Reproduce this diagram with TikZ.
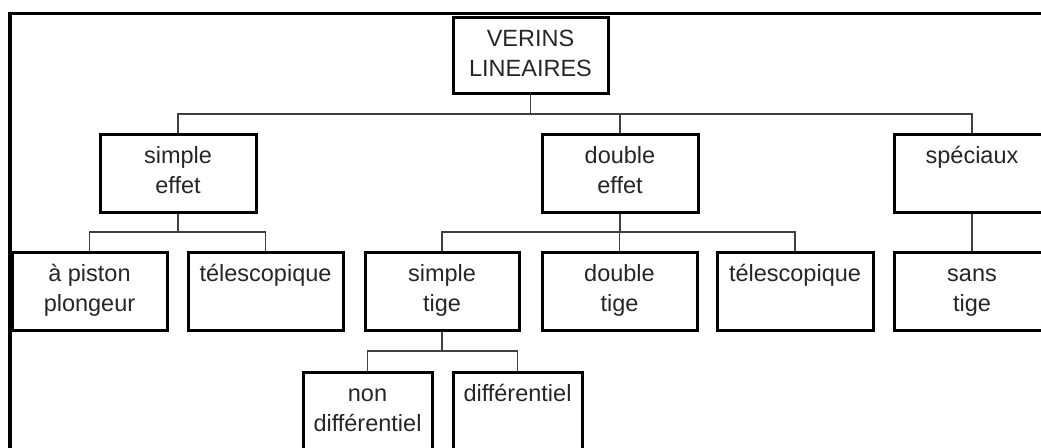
\documentclass[tikz,border=0pt]{standalone}
\usepackage{fontspec}
\setmainfont{Liberation Sans}
\begin{document}
\begin{tikzpicture}[x=1pt,y=1pt,
  box/.style={draw=black, line width=3pt, rectangle, inner sep=0pt,
    minimum width=155pt, minimum height=78pt},
  txt/.style={anchor=base, align=center, inner sep=0pt, text=black!85,
    font=\fontsize{23.5}{30}\selectfont},
  one/.style={txt, yshift=-31pt},
  two/.style={txt, yshift=-61pt},
  conn/.style={draw=black!75, line width=1.4pt},
  frame/.style={draw=black, line width=3.8pt}]
\useasboundingbox (0,0) rectangle (1041,-447);
% outer frame (left and top edges)
\coordinate (fl) at (10,-460);
\coordinate (fc) at (10,-13.5);
\coordinate (fr) at (1060,-13.5);
\draw[frame] (fl) -- (fc) -- (fr);

% boxes
\node[box, minimum height=76pt] (root) at (530.5,-55) {};
\node[box, minimum width=156pt] (sfx) at (178,-173) {};
\node[box, minimum width=156pt] (dfx) at (620,-173) {};
\node[box, minimum width=156pt] (spc) at (972,-173) {};
\node[box] (apl)  at (89.5,-291) {};
\node[box] (tel1) at (265.5,-291) {};
\node[box, minimum width=154pt] (stg) at (442,-291) {};
\node[box] (dtg)  at (619.5,-291) {};
\node[box, minimum width=156pt] (tel2) at (795,-291) {};
\node[box, minimum width=156pt] (sst)  at (972,-291) {};
\node[box, minimum width=129pt] (ndf) at (367.5,-411) {};
\node[box, minimum width=129pt] (dif) at (517.5,-411) {};

% labels, hung from the top edge of each box
\node[two] (roott) at (root.north) {VERINS\\LINEAIRES};
\node[two] (sfxt)  at (sfx.north) {simple\\effet};
\node[two] (dfxt)  at (dfx.north) {double\\effet};
\node[one] (spct)  at (spc.north) {spéciaux};
\node[two] (aplt)  at (apl.north) {à piston\\plongeur};
\node[one] (tel1t) at (tel1.north) {télescopique};
\node[two] (stgt)  at (stg.north) {simple\\tige};
\node[two] (dtgt)  at (dtg.north) {double\\tige};
\node[one] (tel2t) at (tel2.north) {télescopique};
\node[two] (sstt)  at (sst.north) {sans\\tige};
\node[two] (ndft)  at (ndf.north) {non\\différentiel};
\node[one] (dift)  at (dif.north) {différentiel};

% bus levels
\coordinate (b1) at (0,-114);
\coordinate (b2) at (0,-232);
\coordinate (b3) at (0,-351);

% connectors
\draw[conn] (root.south) -- (root.south |- b1);
\draw[conn] (sfx.north) |- (spc.north |- b1) -- (spc.north);
\draw[conn] (dfx.north) -- (dfx.north |- b1);

\draw[conn] (sfx.south) -- (sfx.south |- b2);
\draw[conn] (apl.north) |- (tel1.north |- b2) -- (tel1.north);

\draw[conn] (dfx.south) -- (dfx.south |- b2);
\draw[conn] (stg.north) |- (tel2.north |- b2) -- (tel2.north);
\draw[conn] (dtg.north) -- (dtg.north |- b2);

\draw[conn] (spc.south) -- (sst.north);

\draw[conn] (stg.south) -- (stg.south |- b3);
\draw[conn] (ndf.north) |- (dif.north |- b3) -- (dif.north);
\end{tikzpicture}
\end{document}
